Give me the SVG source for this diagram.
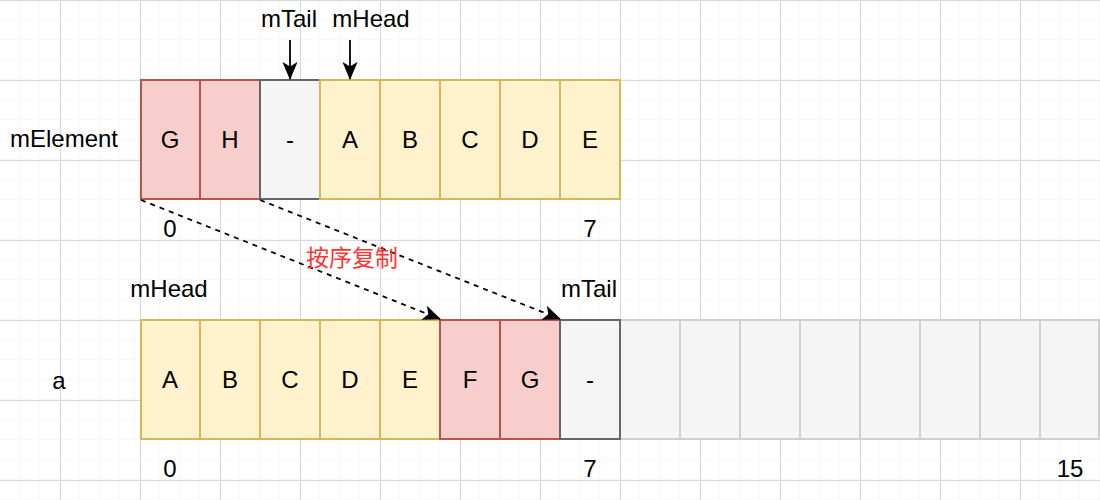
<svg xmlns="http://www.w3.org/2000/svg" width="1100" height="500" viewBox="0 0 1100 500">
<defs>
<pattern id="minor" width="20" height="20" patternUnits="userSpaceOnUse">
<path d="M20 0V20M0 20H20" fill="none" stroke="#f0f0f0" stroke-width="1"/>
</pattern>
<pattern id="major" x="60" y="0" width="80" height="80" patternUnits="userSpaceOnUse">
<path d="M0.5 0V80M0 0.5H80" fill="none" stroke="#d9d9d9" stroke-width="1"/>
</pattern>
<marker id="ah2" viewBox="0 0 10 10" refX="9.5" refY="5" markerWidth="18" markerHeight="18" markerUnits="userSpaceOnUse" orient="auto">
<path d="M0 0.8L10 5L0 9.2L2.5 5Z" fill="#000"/>
</marker>
</defs>
<style>
.t{font-family:"Liberation Sans",Arial,sans-serif;font-size:24px;fill:#000;text-anchor:middle;dominant-baseline:central}
.y{fill:#fff2cc;stroke:#d6b656;stroke-width:2}
.r{fill:#f8cecc;stroke:#b85450;stroke-width:2}
.g{fill:#f5f5f5;stroke:#666666;stroke-width:2}
.e{fill:#f5f5f5;stroke:#d0d0d0;stroke-width:2}
.c{fill:none;stroke:#000;stroke-width:1.8}
.d{stroke-dasharray:5 5}
</style>
<rect width="1100" height="500" fill="#fff"/>
<rect width="1100" height="500" fill="url(#minor)"/>
<rect width="1100" height="500" fill="url(#major)"/>

<text class="t" x="64" y="138">mElement</text>
<text class="t" x="59" y="380">a</text>

<g id="top-row">
<g id="t0"><rect class="r" x="141" y="80" width="59" height="119"/><text class="t" x="170" y="139">G</text></g>
<g id="t1"><rect class="r" x="200" y="80" width="60" height="119"/><text class="t" x="230" y="139">H</text></g>
<g id="t2"><rect class="g" x="260" y="80" width="60" height="119"/><text class="t" x="290" y="139">-</text></g>
<g id="t3"><rect class="y" x="320" y="80" width="60" height="119"/><text class="t" x="350" y="139">A</text></g>
<g id="t4"><rect class="y" x="380" y="80" width="60" height="119"/><text class="t" x="410" y="139">B</text></g>
<g id="t5"><rect class="y" x="440" y="80" width="60" height="119"/><text class="t" x="470" y="139">C</text></g>
<g id="t6"><rect class="y" x="500" y="80" width="60" height="119"/><text class="t" x="530" y="139">D</text></g>
<g id="t7"><rect class="y" x="560" y="80" width="60" height="119"/><text class="t" x="590" y="139">E</text></g>
</g>

<g id="bottom-row">
<g id="b8"><rect class="e" x="620" y="320" width="60" height="119"/></g>
<g id="b9"><rect class="e" x="680" y="320" width="60" height="119"/></g>
<g id="b10"><rect class="e" x="740" y="320" width="60" height="119"/></g>
<g id="b11"><rect class="e" x="800" y="320" width="60" height="119"/></g>
<g id="b12"><rect class="e" x="860" y="320" width="60" height="119"/></g>
<g id="b13"><rect class="e" x="920" y="320" width="60" height="119"/></g>
<g id="b14"><rect class="e" x="980" y="320" width="60" height="119"/></g>
<g id="b15"><rect class="e" x="1040" y="320" width="59" height="119"/></g>
<g id="b0"><rect class="y" x="141" y="320" width="59" height="119"/><text class="t" x="170" y="379">A</text></g>
<g id="b1"><rect class="y" x="200" y="320" width="60" height="119"/><text class="t" x="230" y="379">B</text></g>
<g id="b2"><rect class="y" x="260" y="320" width="60" height="119"/><text class="t" x="290" y="379">C</text></g>
<g id="b3"><rect class="y" x="320" y="320" width="60" height="119"/><text class="t" x="350" y="379">D</text></g>
<g id="b4"><rect class="y" x="380" y="320" width="60" height="119"/><text class="t" x="410" y="379">E</text></g>
<g id="b5"><rect class="r" x="440" y="320" width="60" height="119"/><text class="t" x="470" y="379">F</text></g>
<g id="b6"><rect class="r" x="500" y="320" width="60" height="119"/><text class="t" x="530" y="379">G</text></g>
<g id="b7"><rect class="g" x="560" y="320" width="60" height="119"/><text class="t" x="590" y="379">-</text></g>
</g>

<g id="labels">
<text class="t" x="289" y="18">mTail</text>
<text class="t" x="371" y="18">mHead</text>
<text class="t" x="170" y="228">0</text>
<text class="t" x="590" y="228">7</text>
<text class="t" x="169" y="288">mHead</text>
<text class="t" x="589" y="288">mTail</text>
<text class="t" x="170" y="468">0</text>
<text class="t" x="590" y="468">7</text>
<text class="t" x="1070" y="468">15</text>
</g>

<g id="connectors">
<line class="c" x1="290" y1="40" x2="290" y2="79" marker-end="url(#ah2)"/>
<line class="c" x1="350" y1="40" x2="350" y2="79" marker-end="url(#ah2)"/>
<line class="c d" x1="141" y1="200" x2="440" y2="319" marker-end="url(#ah2)"/>
<line class="c d" x1="260" y1="200" x2="560" y2="319" marker-end="url(#ah2)"/>
<text x="352" y="258" font-family="'Liberation Sans','Noto Sans CJK SC',sans-serif" font-size="23" fill="#ff3333" text-anchor="middle" dominant-baseline="central">按序复制</text>
</g>
</svg>
